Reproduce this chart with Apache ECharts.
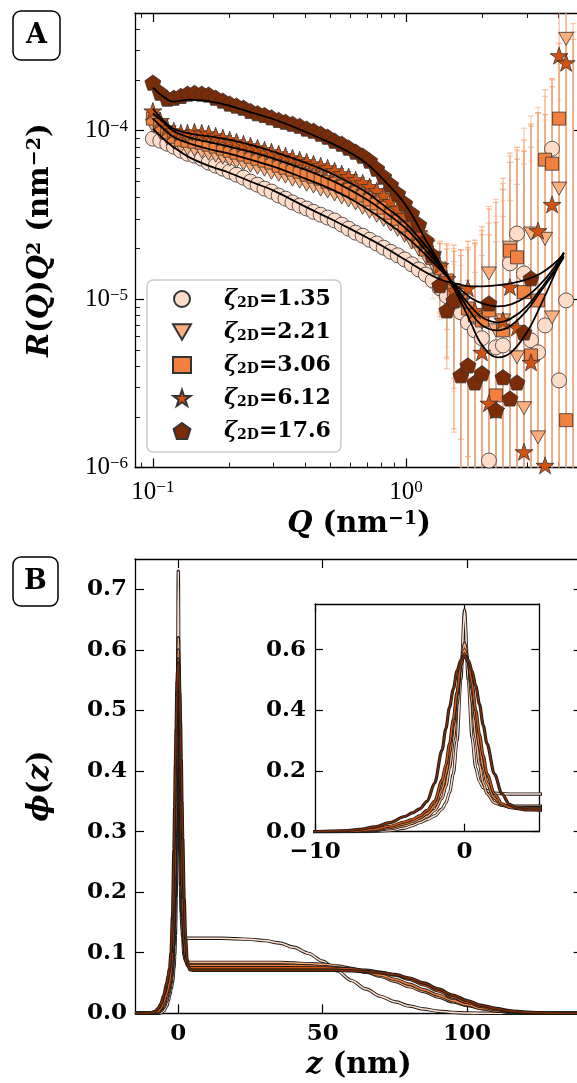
<!DOCTYPE html>
<html><head><meta charset="utf-8">
<script src="https://cdn.jsdelivr.net/npm/echarts@6/dist/echarts.min.js"></script>
<style>html,body{margin:0;padding:0;background:#fff}#c{width:577px;height:1083px}</style>
</head><body><div id="c"></div>
<script>
// ---------- Panel A data ----------
const Q = [0.100,0.107,0.114,0.121,0.129,0.137,0.146,0.156,0.166,0.177,0.189,0.201,0.214,0.228,0.243,0.259,0.276,0.294,0.314,0.334,0.356,0.380,0.405,0.431,0.460,0.490,0.522,0.557,0.593,0.632,0.674,0.718,0.766,0.816,0.870,0.927,0.988,1.053,1.123,1.197,1.275,1.359,1.449,1.545,1.646,1.755,1.870,1.994,2.125,2.265,2.414,2.573,2.743,2.924,3.116,3.322,3.541,3.774,4.023,4.288,4.571];
const R_135 = [8.97e-5,8.72e-5,8.37e-5,8.04e-5,7.61e-5,7.30e-5,7.11e-5,6.82e-5,6.46e-5,6.20e-5,
 5.95e-5,5.71e-5,5.48e-5,5.26e-5,4.98e-5,4.78e-5,4.53e-5,4.35e-5,4.12e-5,3.95e-5,
 3.75e-5,3.59e-5,3.45e-5,3.30e-5,3.17e-5,3.05e-5,2.93e-5,2.77e-5,2.62e-5,2.48e-5,
 2.38e-5,2.25e-5,2.14e-5,2.02e-5,1.91e-5,1.82e-5,1.72e-5,1.61e-5,1.50e-5,1.40e-5,
 1.29e-5,1.16e-5,1.04e-5,9.43e-6,8.34e-6,7.27e-6,6.52e-6,5.85e-6,1.10e-6,5.17e-6,
 5.31e-6,1.63e-5,2.45e-5,1.42e-5,5.69e-6,4.83e-6,6.98e-6,7.82e-5,3.29e-6,9.82e-6,
 9.6e-7];
const R_221 = [1.07e-4,9.73e-5,8.97e-5,8.49e-5,8.04e-5,7.82e-5,7.72e-5,7.51e-5,7.30e-5,7.11e-5,
 6.92e-5,6.73e-5,6.55e-5,6.37e-5,6.20e-5,6.03e-5,5.87e-5,5.63e-5,5.48e-5,5.34e-5,
 5.12e-5,4.98e-5,4.78e-5,4.66e-5,4.47e-5,4.35e-5,4.18e-5,4.01e-5,3.85e-5,3.70e-5,
 3.49e-5,3.30e-5,3.13e-5,2.96e-5,2.77e-5,2.58e-5,2.38e-5,2.17e-5,1.97e-5,1.77e-5,
 1.61e-5,1.48e-5,1.26e-5,1.08e-5,9.82e-6,8.57e-6,7.68e-6,7.27e-6,1.42e-5,6.52e-6,
 7.47e-6,2.02e-5,4.51e-6,2.25e-6,2.45e-5,1.51e-6,2.28e-5,7.78e-6,4.53e-5,3.51e-4,
 9.6e-7];
const R_306 = [1.18e-4,1.06e-4,9.73e-5,9.21e-5,8.84e-5,8.72e-5,8.60e-5,8.49e-5,8.26e-5,8.04e-5,
 7.82e-5,7.61e-5,7.41e-5,7.21e-5,7.01e-5,6.82e-5,6.64e-5,6.46e-5,6.20e-5,6.03e-5,
 5.87e-5,5.71e-5,5.48e-5,5.34e-5,5.19e-5,4.98e-5,4.85e-5,4.66e-5,4.47e-5,4.29e-5,
 4.12e-5,3.90e-5,3.70e-5,3.49e-5,3.26e-5,3.00e-5,2.73e-5,2.48e-5,2.23e-5,1.97e-5,
 1.75e-5,1.52e-5,1.29e-5,1.13e-5,9.82e-6,8.80e-6,8.00e-6,7.47e-6,8.57e-6,2.68e-6,
 6.52e-6,1.94e-5,1.77e-5,1.10e-5,4.63e-6,9.82e-6,6.73e-5,6.37e-5,1.18e-4,1.91e-6,
 9.6e-7];
const R_612 = [1.31e-4,1.15e-4,1.04e-4,1.00e-4,9.73e-5,9.73e-5,9.86e-5,9.73e-5,9.60e-5,9.34e-5,
 9.09e-5,8.84e-5,8.60e-5,8.37e-5,8.15e-5,7.93e-5,7.72e-5,7.51e-5,7.30e-5,7.11e-5,
 6.92e-5,6.73e-5,6.55e-5,6.37e-5,6.20e-5,6.03e-5,5.79e-5,5.56e-5,5.34e-5,5.12e-5,
 4.91e-5,4.66e-5,4.41e-5,4.12e-5,3.80e-5,3.45e-5,3.13e-5,2.81e-5,2.48e-5,2.17e-5,
 1.86e-5,1.58e-5,1.32e-5,1.13e-5,9.82e-6,1.16e-5,8.57e-6,4.83e-6,2.41e-6,2.19e-6,
 7.47e-6,1.18e-5,6.79e-6,1.24e-6,4.21e-6,2.55e-5,1.03e-6,3.65e-5,2.79e-4,2.53e-4,
 8.7e-7];
const R_176 = [1.93e-4,1.68e-4,1.55e-4,1.57e-4,1.61e-4,1.66e-4,1.68e-4,1.66e-4,1.64e-4,1.57e-4,
 1.51e-4,1.45e-4,1.41e-4,1.37e-4,1.31e-4,1.27e-4,1.24e-4,1.20e-4,1.16e-4,1.13e-4,
 1.10e-4,1.07e-4,1.03e-4,1.00e-4,9.60e-5,9.21e-5,8.72e-5,8.37e-5,7.93e-5,7.51e-5,
 7.11e-5,6.64e-5,5.95e-5,5.34e-5,4.78e-5,4.23e-5,3.70e-5,3.22e-5,2.77e-5,2.23e-5,
 1.82e-5,1.21e-5,8.57e-6,9.82e-6,3.53e-6,4.04e-6,3.20e-6,3.63e-6,9.43e-6,2.19e-6,
 3.44e-6,2.57e-6,3.20e-6,6.34e-6,1.33e-5,null,null,null,null,null,
 null];
// relative error (sigma / value)
const E_135 = [0.02,0.02,0.02,0.02,0.02,0.02,0.02,0.02,0.02,0.02,0.02,0.02,0.02,0.02,0.02,0.02,0.02,0.02,0.02,0.02,
 0.02,0.02,0.02,0.02,0.02,0.02,0.02,0.02,0.02,0.02,0.02,0.02,0.02,0.02,0.02,0.02,0.04,0.06,0.1,0.15,
 0.22,0.35,0.5,0.7,0.9,1.7,2.2,3.4,8,5,6.2,2.1,2.1,4.3,10.6,17,15.5,1.55,45,34,400];
const E_221 = [0.02,0.02,0.02,0.02,0.02,0.02,0.02,0.02,0.02,0.02,0.02,0.02,0.02,0.02,0.02,0.02,0.02,0.02,0.02,0.02,
 0.02,0.02,0.02,0.02,0.02,0.02,0.02,0.02,0.02,0.02,0.02,0.02,0.02,0.02,0.02,0.02,0.05,0.08,0.12,0.18,
 0.28,0.45,0.65,0.85,1.0,1.3,1.8,2.5,1.5,5,5.5,2.5,16,45,4,90,6,25,4.5,1.2,450];
const E_306 = [0.02,0.02,0.02,0.02,0.02,0.02,0.02,0.02,0.02,0.02,0.02,0.02,0.02,0.02,0.02,0.02,0.02,0.02,0.02,0.02,
 0.02,0.02,0.02,0.02,0.02,0.02,0.02,0.02,0.02,0.02,0.02,0.02,0.02,0.02,0.02,0.02,0.05,0.08,0.12,0.18,
 0.28,0.45,0.65,0.85,1.0,1.3,1.8,2.6,3,13,7,2.8,3.5,7,22,12,1.6,2.2,1.8,180,400];
const E_612 = [0.02,0.02,0.02,0.02,0.02,0.02,0.02,0.02,0.02,0.02,0.02,0.02,0.02,0.02,0.02,0.02,0.02,0.02,0.02,0.02,
 0.02,0.02,0.02,0.02,0.02,0.02,0.02,0.02,0.02,0.02,0.02,0.02,0.02,0.02,0.02,0.02,0.04,0.06,0.1,0.15,
 0.22,0.35,0.5,0.7,0.85,0.9,1.5,4,9,12,5,4.5,9,60,25,4,120,4,1.1,1.1,400];
const E_176 = [0.02,0.02,0.02,0.02,0.02,0.02,0.02,0.02,0.02,0.02,0.02,0.02,0.02,0.02,0.02,0.02,0.02,0.02,0.02,0.02,
 0.02,0.02,0.02,0.02,0.02,0.02,0.02,0.02,0.02,0.02,0.02,0.02,0.02,0.02,0.02,0.02,0.03,0.05,0.08,0.12,
 0.2,0.35,0.55,0.7,2,2.2,3.5,4,2,9,8,14,14,9,5,null,null,null,null,null,null];
// fit curves
const FQ = [0.1,0.11,0.12,0.14,0.17,0.2,0.25,0.3,0.4,0.5,0.6,0.7,0.8,1.0,1.2,1.4,1.6,1.8,2.0,2.3,2.6,3.0,3.4,3.8,4.2];
const F_135 = [1.03e-4,8.96e-5,8.04e-5,6.92e-5,6.12e-5,5.63e-5,4.91e-5,4.41e-5,3.54e-5,3.01e-5,2.62e-5,2.32e-5,2.08e-5,1.70e-5,1.44e-5,1.29e-5,1.23e-5,1.19e-5,1.19e-5,1.21e-5,1.24e-5,1.31e-5,1.42e-5,1.60e-5,1.85e-5];
const F_221 = [1.18e-4,1.03e-4,9.21e-5,8.38e-5,7.72e-5,7.31e-5,6.64e-5,6.12e-5,5.19e-5,4.53e-5,3.96e-5,3.44e-5,3.01e-5,2.35e-5,1.82e-5,1.44e-5,1.18e-5,1.02e-5,9.42e-6,9.05e-6,9.30e-6,1.04e-5,1.23e-5,1.50e-5,1.89e-5];
const F_306 = [1.27e-4,1.12e-4,1.00e-4,9.09e-5,8.49e-5,8.04e-5,7.41e-5,6.82e-5,5.87e-5,5.12e-5,4.47e-5,3.90e-5,3.40e-5,2.62e-5,1.94e-5,1.48e-5,1.13e-5,9.05e-6,7.78e-6,7.27e-6,7.68e-6,9.05e-6,1.15e-5,1.44e-5,1.80e-5];
const F_612 = [1.35e-4,1.15e-4,1.03e-4,9.60e-5,9.21e-5,8.84e-5,8.15e-5,7.50e-5,6.46e-5,5.63e-5,4.91e-5,4.29e-5,3.69e-5,2.81e-5,2.05e-5,1.52e-5,1.10e-5,8.34e-6,6.98e-6,6.52e-6,6.98e-6,8.57e-6,1.11e-5,1.40e-5,1.77e-5];
const F_176 = [1.80e-4,1.59e-4,1.49e-4,1.53e-4,1.49e-4,1.41e-4,1.27e-4,1.17e-4,9.86e-5,8.49e-5,7.41e-5,6.37e-5,5.26e-5,3.59e-5,2.23e-5,1.52e-5,1.05e-5,7.27e-6,5.31e-6,4.51e-6,4.83e-6,6.34e-6,9.17e-6,1.33e-5,1.89e-5];

// ---------- Panel B data ----------
const Z = [-15,-10,-8,-7,-6,-5,-4,-3.5,-3,-2.5,-2,-1.5,-1.25,-1,-0.75,-0.5,-0.25,0,0.25,0.5,0.75,1,1.25,1.5,2,2.5,3,3.5,4,
 5,10,15,20,25,30,35,40,45,50,55,60,65,70,75,80,85,90,95,100,105,110,115,120,125,130,135,140];
const P_135 = [0,0,0,0,0.001,0.004,0.012,0.02,0.03,0.04,0.052,0.075,0.095,0.13,0.19,0.3,0.5,0.73,0.5,0.31,0.21,0.165,0.145,0.135,0.127,0.125,0.124,0.124,0.124,
 0.124,0.124,0.124,0.123,0.122,0.12,0.116,0.109,0.099,0.086,0.07,0.054,0.04,0.028,0.019,0.012,0.007,0.0035,0.0015,0.0005,0,0,0,0,0,0,0,0];
const P_221 = [0,0,0,0.001,0.004,0.01,0.02,0.028,0.038,0.05,0.07,0.11,0.15,0.21,0.3,0.42,0.55,0.62,0.56,0.43,0.31,0.22,0.16,0.125,0.095,0.087,0.085,0.084,0.084,
 0.084,0.084,0.084,0.084,0.084,0.084,0.084,0.083,0.082,0.081,0.078,0.074,0.068,0.061,0.053,0.044,0.036,0.027,0.019,0.013,0.008,0.004,0.002,0.001,0,0,0,0];
const P_306 = [0,0,0.001,0.002,0.006,0.014,0.026,0.034,0.045,0.06,0.085,0.14,0.19,0.26,0.35,0.45,0.55,0.60,0.56,0.47,0.37,0.28,0.21,0.16,0.11,0.088,0.082,0.08,0.079,
 0.079,0.079,0.079,0.079,0.079,0.079,0.079,0.079,0.078,0.077,0.075,0.072,0.068,0.063,0.056,0.048,0.039,0.03,0.021,0.014,0.008,0.004,0.002,0.001,0,0,0,0];
const P_612 = [0,0,0.001,0.003,0.008,0.018,0.032,0.04,0.052,0.07,0.1,0.17,0.22,0.29,0.37,0.46,0.55,0.585,0.56,0.49,0.4,0.32,0.25,0.19,0.125,0.092,0.08,0.077,0.075,
 0.075,0.075,0.075,0.075,0.075,0.075,0.075,0.075,0.075,0.075,0.074,0.073,0.071,0.068,0.063,0.056,0.047,0.037,0.027,0.018,0.011,0.006,0.003,0.0015,0.0005,0,0,0];
const P_176 = [0,0.0005,0.003,0.008,0.016,0.03,0.05,0.062,0.075,0.1,0.16,0.27,0.34,0.41,0.47,0.53,0.565,0.578,0.565,0.53,0.48,0.42,0.35,0.29,0.19,0.125,0.09,0.077,0.072,
 0.071,0.071,0.071,0.071,0.071,0.071,0.071,0.071,0.071,0.071,0.071,0.07,0.069,0.067,0.064,0.058,0.05,0.04,0.03,0.021,0.013,0.008,0.004,0.002,0.001,0.0003,0,0];

// ---------- ticks ----------
const xMajorA = [0.1, 1];
const xMinorA = [0.09,0.2,0.3,0.4,0.5,0.6,0.7,0.8,0.9,2,3,4];
const yMajorA = [1e-6, 1e-5, 1e-4];
const yMinorA = [2e-6,3e-6,4e-6,5e-6,6e-6,7e-6,8e-6,9e-6,2e-5,3e-5,4e-5,5e-5,6e-5,7e-5,8e-5,9e-5,2e-4,3e-4,4e-4];
const xTicksB = [0, 50, 100];
const yTicksB = [0, 0.1, 0.2, 0.3, 0.4, 0.5, 0.6, 0.7];
const xTicksIn = [-10, 0];
const yTicksIn = [0, 0.2, 0.4, 0.6];
const LEG = ['1.35', '2.21', '3.06', '6.12', '17.6'];

const XA = [0.085, 5], YA = [1e-6, 5e-4], XB = [-15, 140], YB = [0, 0.75], XI = [-10, 5], YI = [0, 0.75];

const COLORS = ['#fddcc9', '#fcae7c', '#f2813f', '#d25210', '#7b2c06'];
const ERRCOLORS = ['#fbd0b8', '#fbb084', '#f69a62', '#ec9462', '#e0a584'];
const TRI = 'path://M0,0 L100,0 L50,87 Z';
const STAR = 'path://M50,0 L61.8,35.1 L98.9,35.1 L68.8,56.8 L80.2,91.9 L50,70.2 L19.8,91.9 L31.2,56.8 L1.1,35.1 L38.2,35.1 Z';
const PENT = 'path://M50,0 L97.6,34.5 L79.4,90.5 L20.6,90.5 L2.4,34.5 Z';
const meta = [
  {name: LEG[0], color: COLORS[0], err: ERRCOLORS[0], symbol: 'circle', size: 15, R: R_135, E: E_135, F: F_135, P: P_135},
  {name: LEG[1], color: COLORS[1], err: ERRCOLORS[1], symbol: TRI, size: 15, R: R_221, E: E_221, F: F_221, P: P_221},
  {name: LEG[2], color: COLORS[2], err: ERRCOLORS[2], symbol: 'rect', size: 13, R: R_306, E: E_306, F: F_306, P: P_306},
  {name: LEG[3], color: COLORS[3], err: ERRCOLORS[3], symbol: STAR, size: 18, R: R_612, E: E_612, F: F_612, P: P_612},
  {name: LEG[4], color: COLORS[4], err: ERRCOLORS[4], symbol: PENT, size: 16, R: R_176, E: E_176, F: F_176, P: P_176}
];

const SERIF = 'DejaVu Serif';
const AXLINE = {show: true, onZero: false, lineStyle: {color: '#000', width: 1.3}};
const NOLINE = {show: false, onZero: false};
function tk(vals, len) {
  return {show: true, inside: true, length: len, customValues: vals, lineStyle: {color: '#000', width: len > 6 ? 1.2 : 0.9}};
}
const POWRICH = {
  b: {fontFamily: 'Liberation Serif', fontSize: 25, color: '#000'},
  s: {fontFamily: 'Liberation Serif', fontSize: 17, color: '#000', verticalAlign: 'top'}
};
function powLabel(v) {
  const e = Math.round(Math.log10(v));
  return '{b|10}{s|' + (e < 0 ? '\u2212' + (-e) : e) + '}';
}
const NAMERICH = {
  bi: {fontFamily: SERIF, fontWeight: 'bold', fontStyle: 'italic', fontSize: 29, color: '#000'},
  b: {fontFamily: SERIF, fontWeight: 'bold', fontSize: 29, color: '#000'},
  s: {fontFamily: SERIF, fontWeight: 'bold', fontSize: 19, color: '#000', verticalAlign: 'top'}
};
const BLAB = {fontFamily: SERIF, fontWeight: 'bold', fontSize: 23, color: '#000'};

function logAxis(grid, pos, rng, vals, len, line, label, extra) {
  return Object.assign({type: 'log', logBase: 10, gridIndex: grid, min: rng[0], max: rng[1], position: pos,
    axisLine: line ? AXLINE : NOLINE, axisTick: tk(vals, len), axisLabel: label || {show: false},
    splitLine: {show: false}, minorTick: {show: false}}, extra || {});
}
function valAxis(grid, pos, rng, vals, len, label, extra) {
  return Object.assign({type: 'value', gridIndex: grid, min: rng[0], max: rng[1], position: pos,
    axisLine: AXLINE, axisTick: tk(vals, len), axisLabel: label || {show: false},
    splitLine: {show: false}}, extra || {});
}

const xAxis = [
  logAxis(0, 'bottom', XA, xMajorA, 9, true,
    {show: true, customValues: xMajorA, margin: 12, formatter: powLabel, rich: POWRICH},
    {name: '{bi|Q}{b| (nm}{s|\u22121}{b|)}', nameLocation: 'middle', nameGap: 42, nameTextStyle: {rich: NAMERICH}}),
  logAxis(0, 'bottom', XA, xMinorA, 5, false),
  logAxis(0, 'top', XA, xMajorA, 9, true),
  logAxis(0, 'top', XA, xMinorA, 5, false),
  valAxis(1, 'bottom', XB, xTicksB, 9,
    {show: true, customValues: xTicksB, margin: 9, formatter: v => String(v), ...BLAB},
    {name: '{bi|z}{b| (nm)}', nameLocation: 'middle', nameGap: 38, nameTextStyle: {rich: NAMERICH}}),
  valAxis(1, 'top', XB, xTicksB, 9),
  valAxis(2, 'bottom', XI, xTicksIn, 8,
    {show: true, customValues: xTicksIn, margin: 9, formatter: v => String(v).replace('-', '\u2212'), ...BLAB}),
  valAxis(2, 'top', XI, xTicksIn, 8)
];
const yAxis = [
  logAxis(0, 'left', YA, yMajorA, 9, true,
    {show: true, customValues: yMajorA, margin: 7, formatter: powLabel, rich: POWRICH},
    {name: '{bi|R}{b|(}{bi|Q}{b|)}{bi|Q}{s|2}{b| (nm}{s|\u22122}{b|)}', nameLocation: 'middle', nameGap: 80, nameRotate: 90, nameTextStyle: {rich: NAMERICH}}),
  logAxis(0, 'left', YA, yMinorA, 5, false),
  logAxis(0, 'right', YA, yMajorA, 9, true),
  logAxis(0, 'right', YA, yMinorA, 5, false),
  valAxis(1, 'left', YB, yTicksB, 9,
    {show: true, customValues: yTicksB, margin: 8, formatter: v => v.toFixed(1), ...BLAB},
    {name: '{bi|\u03d5}{b|(}{bi|z}{b|)}', nameLocation: 'middle', nameGap: 80, nameRotate: 90, nameTextStyle: {rich: NAMERICH}}),
  valAxis(1, 'right', YB, yTicksB, 9),
  valAxis(2, 'left', YI, yTicksIn, 8,
    {show: true, customValues: yTicksIn, margin: 9, formatter: v => v.toFixed(1), ...BLAB}),
  valAxis(2, 'right', YI, yTicksIn, 8)
];

function errData(R, E) {
  const out = [];
  Q.forEach((q, j) => {
    if (R[j] == null || E[j] == null) return;
    const s = R[j] * E[j];
    let lo = R[j] - s, hi = R[j] + s;
    const loC = lo <= YA[0] ? 1 : 0, hiC = hi >= YA[1] ? 1 : 0;
    if (loC) lo = YA[0];
    if (hiC) hi = YA[1];
    out.push([q, R[j], lo, hi, loC, hiC]);
  });
  return out;
}

const series = [];
meta.forEach(m => {
  series.push({
    type: 'custom', xAxisIndex: 0, yAxisIndex: 0, z: 1, silent: true,
    data: errData(m.R, m.E),
    renderItem: (params, api) => {
      const q = api.value(0);
      const p1 = api.coord([q, api.value(2)]);
      const p2 = api.coord([q, api.value(3)]);
      const st = {stroke: m.err, lineWidth: 1.3, opacity: 0.6};
      const ch = [{type: 'line', shape: {x1: p1[0], y1: p1[1], x2: p2[0], y2: p2[1]}, style: st}];
      if (!api.value(4)) ch.push({type: 'line', shape: {x1: p1[0] - 3, y1: p1[1], x2: p1[0] + 3, y2: p1[1]}, style: st});
      if (!api.value(5)) ch.push({type: 'line', shape: {x1: p2[0] - 3, y1: p2[1], x2: p2[0] + 3, y2: p2[1]}, style: st});
      return {type: 'group', children: ch};
    }
  });
});
meta.forEach(m => {
  series.push({
    type: 'scatter', name: m.name, xAxisIndex: 0, yAxisIndex: 0, z: 2,
    symbol: m.symbol, symbolSize: m.size, symbolKeepAspect: true,
    itemStyle: {color: m.color, borderColor: '#333', borderWidth: 0.8, opacity: 1},
    data: Q.map((q, j) => [q, m.R[j]]).filter(d => d[1] != null)
  });
});
meta.forEach(m => {
  series.push({
    type: 'line', xAxisIndex: 0, yAxisIndex: 0, z: 3, silent: true, symbol: 'none', smooth: 0.4,
    lineStyle: {color: '#000', width: 1.8}, data: FQ.map((q, j) => [q, m.F[j]])
  });
});
[[4, 4, 3.4, 1.6], [6, 6, 3.2, 1.6]].forEach(([xi, yi, wOut, wIn]) => {
  meta.forEach(m => {
    const d = Z.map((z, j) => [z, m.P[j]]);
    series.push({type: 'line', xAxisIndex: xi, yAxisIndex: yi, z: 2, silent: true, symbol: 'none', smooth: 0.3, smoothMonotone: 'x',
      lineStyle: {color: '#1a1a1a', width: wOut}, data: d});
    series.push({type: 'line', xAxisIndex: xi, yAxisIndex: yi, z: 2, silent: true, symbol: 'none', smooth: 0.3, smoothMonotone: 'x',
      lineStyle: {color: m.color, width: wIn}, data: d});
  });
});

const option = {
  animation: false,
  backgroundColor: '#fff',
  grid: [
    {left: 135, top: 13, width: 448, height: 454.5, outerBoundsMode: 'none', containLabel: false},
    {left: 135, top: 559, width: 447.6, height: 454.3, outerBoundsMode: 'none', containLabel: false},
    {left: 315, top: 604, width: 224.3, height: 227.7, show: true, backgroundColor: '#fff', borderWidth: 0, outerBoundsMode: 'none', containLabel: false}
  ],
  xAxis, yAxis,
  legend: {
    left: 147, top: 280, orient: 'vertical', data: LEG, selectedMode: false,
    itemWidth: 18, itemHeight: 16, itemGap: 11,
    padding: [8, 10, 10, 25],
    backgroundColor: 'rgba(255,255,255,0.8)', borderColor: '#cccccc', borderWidth: 1.5, borderRadius: 6,
    formatter: n => '{p| }{z|\u03b6}{s|2D}{t|=' + n + '}',
    textStyle: {
      lineHeight: 22,
      rich: {
        p: {width: 28, fontSize: 20},
        z: {fontFamily: SERIF, fontStyle: 'italic', fontWeight: 'bold', fontSize: 22, color: '#000'},
        s: {fontFamily: SERIF, fontWeight: 'bold', fontSize: 14, color: '#000', verticalAlign: 'bottom', lineHeight: 14},
        t: {fontFamily: SERIF, fontWeight: 'bold', fontSize: 22, color: '#000'}
      }
    }
  },
  graphic: [
    {type: 'rect', shape: {x: 13, y: 11, width: 47, height: 49, r: 8}, style: {fill: '#fff', stroke: '#000', lineWidth: 1.5}},
    {type: 'text', x: 36.5, y: 36, style: {text: 'A', fill: '#000', font: 'bold 27px "DejaVu Serif"', align: 'center', verticalAlign: 'middle'}},
    {type: 'rect', shape: {x: 13, y: 557, width: 45, height: 49, r: 8}, style: {fill: '#fff', stroke: '#000', lineWidth: 1.5}},
    {type: 'text', x: 35.5, y: 582, style: {text: 'B', fill: '#000', font: 'bold 27px "DejaVu Serif"', align: 'center', verticalAlign: 'middle'}}
  ],
  series
};
const chart = echarts.init(document.getElementById('c'), null, {renderer: 'canvas'});
chart.setOption(option);
</script>
</body></html>
